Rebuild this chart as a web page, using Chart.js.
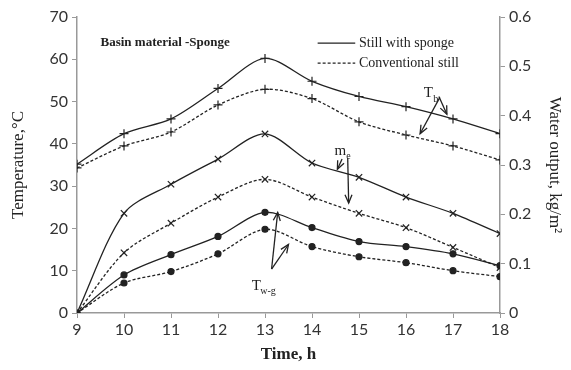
<!DOCTYPE html>
<html>
<head>
<meta charset="utf-8">
<script src="https://cdn.jsdelivr.net/npm/chart.js@4.4.1/dist/chart.umd.min.js"></script>
<style>
  html, body { margin: 0; padding: 0; background: #fff; }
  #wrap { width: 571px; height: 370px; }
</style>
</head>
<body>
<div id="wrap"><canvas id="chart" width="571" height="370"></canvas></div>
<script>
// time of day, h
var hours = [9, 10, 11, 12, 13, 14, 15, 16, 17, 18];

// basin temperature Tb, deg C
var tbSponge = [35.2, 42.4, 45.9, 53.1, 60.2, 54.8, 51.2, 48.8, 45.9, 42.4];
var tbConv   = [34.3, 39.5, 42.8, 49.2, 52.9, 50.7, 45.2, 42.1, 39.5, 36.2];

// water output me, kg/m2 (right axis)
var meSponge = [0, 0.202, 0.261, 0.312, 0.363, 0.304, 0.275, 0.235, 0.202, 0.161];
var meConv   = [0, 0.122, 0.182, 0.235, 0.271, 0.235, 0.202, 0.173, 0.133, 0.092];

// water-glass temperature difference Tw-g, deg C
var twgSponge = [0, 9.0, 13.8, 18.1, 23.8, 20.2, 16.9, 15.7, 14.0, 11.2];
var twgConv   = [0, 7.1, 9.8, 14.0, 19.8, 15.7, 13.3, 11.9, 10.0, 8.6];

var ink = '#222';
var serif = '"Liberation Serif", "DejaVu Serif", serif';
var sans = 'Lato, "Open Sans", sans-serif';

function pts(vals) {
    return hours.map(function (h, i) { return { x: h, y: vals[i] }; });
}

function series(label, vals, style, dashed, axis) {
    return {
        label: label,
        data: pts(vals),
        yAxisID: axis || 'y',
        borderColor: ink,
        backgroundColor: ink,
        borderWidth: 1.3,
        borderDash: dashed ? [3, 2] : [],
        pointStyle: style,
        pointRadius: style === 'circle' ? 3 : 4.5,
        pointBorderColor: ink,
        pointBackgroundColor: ink,
        pointBorderWidth: 1.2,
        tension: 0.3,
        fill: false
    };
}

// text, legend and arrows placed in data space
var notes = {
    id: 'notes',
    afterDatasetsDraw: function (chart) {
        var c = chart.ctx, x = chart.scales.x, y = chart.scales.y;
        function px(v) { return x.getPixelForValue(v); }
        function py(v) { return y.getPixelForValue(v); }
        function arrow(x0, y0, x1, y1) {
            var L = 9;
            c.beginPath();
            c.moveTo(px(x0), py(y0));
            c.lineTo(px(x1), py(y1));
            c.stroke();
            var ex = px(x1), ey = py(y1);
            var ang = Math.atan2(py(y1) - py(y0), px(x1) - px(x0));
            c.beginPath();
            c.moveTo(ex - L * Math.cos(ang - 0.4), ey - L * Math.sin(ang - 0.4));
            c.lineTo(ex, ey);
            c.lineTo(ex - L * Math.cos(ang + 0.4), ey - L * Math.sin(ang + 0.4));
            c.stroke();
        }
        c.save();
        c.strokeStyle = ink;
        c.fillStyle = ink;
        c.lineWidth = 1.3;
        c.setLineDash([]);

        c.font = 'bold 13px ' + serif;
        c.textBaseline = 'middle';
        c.textAlign = 'left';
        c.fillText('Basin material -Sponge', px(9.5), py(64.0));

        // legend
        c.font = '14px ' + serif;
        c.beginPath();
        c.moveTo(px(14.12), py(63.8)); c.lineTo(px(14.92), py(63.8));
        c.stroke();
        c.fillText('Still with sponge', px(15.0), py(63.8));
        c.setLineDash([3, 2]);
        c.beginPath();
        c.moveTo(px(14.12), py(59.1)); c.lineTo(px(14.92), py(59.1));
        c.stroke();
        c.setLineDash([]);
        c.fillText('Conventional still', px(15.0), py(59.1));

        // Tb
        c.font = '15px ' + serif;
        c.fillText('T', px(16.38), py(52.0));
        c.font = '10px ' + serif;
        c.fillText('b', px(16.58), py(50.5));
        arrow(16.7, 51.2, 16.87, 47.0);
        arrow(16.72, 51.0, 16.3, 42.4);

        // me
        c.font = '15px ' + serif;
        c.fillText('m', px(14.48), py(38.4));
        c.font = '10px ' + serif;
        c.fillText('e', px(14.73), py(37.0));
        arrow(14.64, 36.4, 14.54, 34.0);
        arrow(14.76, 36.6, 14.78, 26.0);

        // Tw-g
        c.font = '15px ' + serif;
        c.fillText('T', px(12.72), py(6.4));
        c.font = '10px ' + serif;
        c.fillText('w-g', px(12.9), py(5.0));
        arrow(13.14, 10.4, 13.27, 23.8);
        arrow(13.14, 10.4, 13.5, 16.2);
        c.restore();
    }
};

new Chart(document.getElementById('chart'), {
    type: 'line',
    data: {
        datasets: [
            series('Tb still with sponge', tbSponge, 'cross', false),
            series('Tb conventional still', tbConv, 'cross', true),
            series('me still with sponge', meSponge, 'crossRot', false, 'y1'),
            series('me conventional still', meConv, 'crossRot', true, 'y1'),
            series('Tw-g still with sponge', twgSponge, 'circle', false),
            series('Tw-g conventional still', twgConv, 'circle', true)
        ]
    },
    options: {
        responsive: false,
        animation: false,
        layout: { padding: { top: 17, right: 2, left: 4, bottom: 1 } },
        plugins: {
            legend: { display: false },
            tooltip: { enabled: false }
        },
        scales: {
            x: {
                type: 'linear',
                min: 9, max: 18,
                grid: { drawOnChartArea: false, tickLength: 5, color: '#999' },
                border: { color: '#999', width: 1.5 },
                ticks: { stepSize: 1, color: '#333', font: { family: sans, size: 16 }, padding: 2 },
                title: { display: true, text: 'Time, h', color: ink, font: { family: serif, size: 17, weight: 'bold' }, padding: { top: 4 } },
                afterFit: function (s) { s.height = 56; }
            },
            y: {
                position: 'left',
                min: 0, max: 70,
                grid: { drawOnChartArea: false, tickLength: 5, color: '#999' },
                border: { color: '#999', width: 1.5 },
                ticks: { stepSize: 10, color: '#333', font: { family: sans, size: 16 }, padding: 4 },
                title: { display: true, text: 'Temperature,°C', color: ink, font: { family: serif, size: 17 } },
                afterFit: function (s) { s.width = 73; }
            },
            y1: {
                position: 'right',
                min: 0, max: 0.6,
                grid: { drawOnChartArea: false, tickLength: 5, color: '#999' },
                border: { color: '#999', width: 1.5 },
                ticks: { stepSize: 0.1, color: '#333', font: { family: sans, size: 16 }, padding: 4 },
                title: { display: true, text: 'Water output, kg/m²', color: ink, font: { family: serif, size: 17 } },
                afterFit: function (s) { s.width = 69; }
            }
        }
    },
    plugins: [notes]
});
</script>
</body>
</html>
